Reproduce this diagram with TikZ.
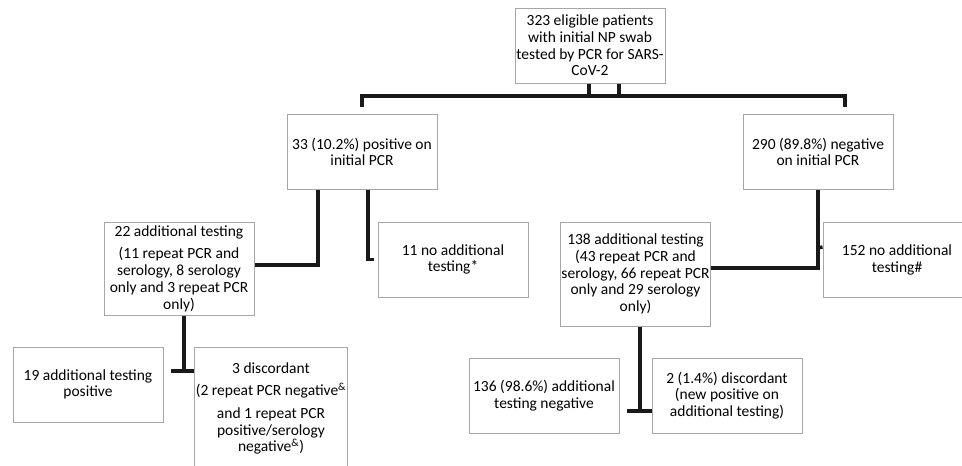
\documentclass[tikz,border=0pt]{standalone}
\usepackage{fontspec}
\setmainfont{Carlito}
\usepackage{tikz}
\usetikzlibrary{positioning}

\begin{document}
\begin{tikzpicture}[on grid, x=1pt, y=1pt,
	box/.style={draw=black!35, line width=1pt, align=center, inner sep=1pt, minimum width=150pt, minimum height=75pt, font=\fontsize{15.5}{16.7}\selectfont},
	link/.style={draw=black!90, line width=3.5pt}]
\useasboundingbox (0,0) rectangle (962,-466);
\node[box]						(all)		at (590,-45.5)							{323 eligible patients\\with initial NP swab\\tested by PCR for SARS-\\CoV-2};
\node[box]						(pos)		[below left=106.5pt and 228pt of all]		{33 (10.2\%) positive on\\initial PCR};
\node[box]						(neg)		[below right=106.5pt and 228pt of all]		{290 (89.8\%) negative\\on initial PCR};
\node[box, minimum height=93pt]		(pos_add)	[below left=116.5pt and 183pt of pos]		{22 additional testing\\[6pt](11 repeat PCR and\\serology, 8 serology\\only and 3 repeat PCR\\only)};
\node[box]						(pos_none)	[below right=107.5pt and 91pt of pos]		{11 no additional\\testing*};
\node[box, minimum height=104pt]	(neg_add)	[below left=122pt and 182.5pt of neg]		{138 additional testing\\(43 repeat PCR and\\serology, 66 repeat PCR\\only and 29 serology\\only)};
\node[box, minimum width=148pt]		(neg_none)	[below right=108pt and 79pt of neg]			{152 no additional\\testing\#};
\node[box]						(pos_agree)	[below left=116pt and 91pt of pos_add]		{19 additional testing\\positive};
\node[box, minimum height=123pt]	(pos_disc)	[below right=140pt and 92pt of pos_add]		{3 discordant\\[6pt](2 repeat PCR negative\textsuperscript{\&}\\[6pt]and 1 repeat PCR\\positive/serology\\negative\textsuperscript{\&})};
\node[box]						(neg_agree)	[below left=121.5pt and 91.5pt of neg_add]	{136 (98.6\%) additional\\testing negative};
\node[box]						(neg_disc)	[below right=121.5pt and 91.5pt of neg_add]	{2 (1.4\%) discordant\\(new positive on\\additional testing)};
\path[link]	([xshift=-1pt]all.south)			edge	++(0,-14)
			([xshift=29pt]all.south)			edge	++(0,-14)
			([yshift=7pt]pos.north)			edge	[to path={|- (\tikztotarget) -- ++(0,-11)}]	([xshift=27pt, yshift=18pt]neg.north)
			([xshift=-44pt]pos.south)			edge	[to path={|- (\tikztotarget)}]	([yshift=3.5pt]pos_add.east)
			([xshift=6pt]pos.south)			edge	[to path={|- (\tikztotarget)}]	([xshift=-4pt]pos_none.west)
			(neg.south)						edge	[to path={|- (\tikztotarget)}]	([yshift=6pt]neg_add.east)
			([yshift=-58pt]neg.south)			edge	([yshift=13pt]neg_none.west)
			([xshift=5pt]pos_add.south)		edge	++(0,-56)
			([xshift=7pt, yshift=13.5pt]pos_agree.east)	edge	([yshift=37.5pt]pos_disc.west)
			([xshift=4.5pt]neg_add.south)		edge	++(0,-85)
			([xshift=7pt, yshift=-15.5pt]neg_agree.east)	edge	([yshift=-15.5pt]neg_disc.west);
\end{tikzpicture}
\end{document}
